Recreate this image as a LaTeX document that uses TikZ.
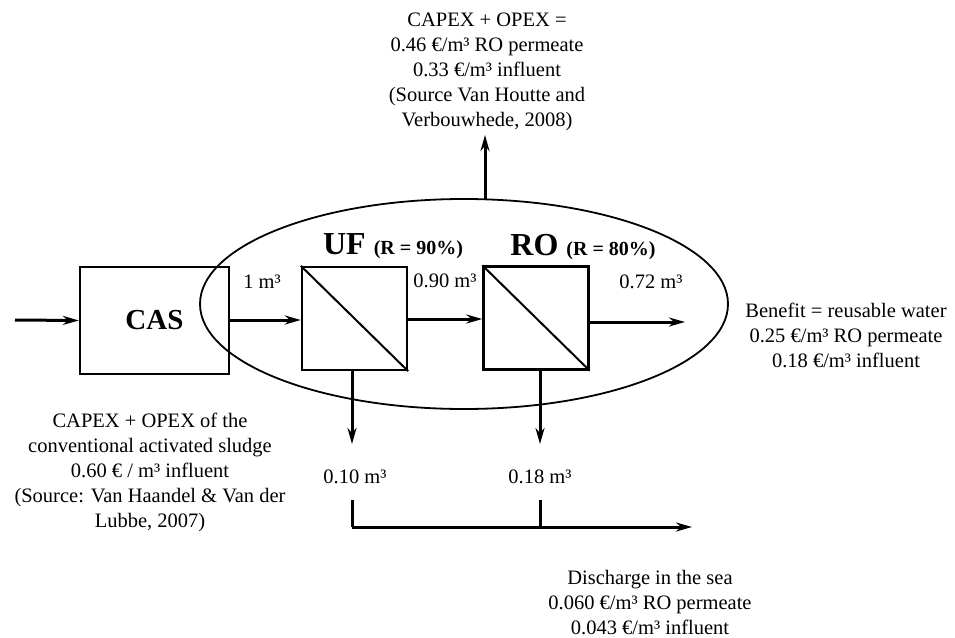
\documentclass[tikz,border=0pt]{standalone}
\usepackage{fontspec}
\setmainfont{Liberation Serif}
\usetikzlibrary{arrows.meta,shapes.geometric}
\begin{document}
\begin{tikzpicture}[x=1pt,y=-1pt,
  flow/.style={line width=3pt,-{Stealth[length=16pt,width=9pt]}},
  plain/.style={line width=3pt},
  unit/.style={draw,line width=2.4pt,minimum width=105pt,minimum height=103pt,inner sep=0pt},
  txt/.style={font=\fontsize{20.5}{25}\selectfont,align=center,inner sep=0pt},
  lbl/.style={font=\fontsize{20.5}{22}\selectfont,inner sep=0pt}]
\useasboundingbox (0,0) rectangle (955,637);
% ellipse
\node[draw,ellipse,line width=1.8pt,minimum width=528pt,minimum height=210pt,inner sep=0pt] (ell) at (464,304) {};
% boxes
\node[draw,line width=2.4pt,minimum width=149pt,minimum height=107pt,inner sep=0pt,font=\fontsize{29}{29}\selectfont\bfseries] (cas) at (154.5,320.5) {CAS};
\node[unit] (uf) at (354.5,318.5) {};
\node[unit] (ro) at (536,318) {};
\draw[line width=2pt] (uf.north west) -- (uf.south east);
\draw[line width=2pt] (ro.north west) -- (ro.south east);
% labels
\node[lbl,anchor=base] (uflab) at (393,254) {\fontsize{32}{32}\selectfont\bfseries UF \fontsize{20}{20}\selectfont(R = 90\%)};
\node[lbl,anchor=base] (rolab) at (583,255) {\fontsize{32}{32}\selectfont\bfseries RO \fontsize{20}{20}\selectfont(R = 80\%)};
\node[lbl] (q1) at (262,282) {1 m³};
\node[lbl] (q2) at (445,281) {0.90 m³};
\node[lbl] (q3) at (651,282) {0.72 m³};
\node[lbl] (q4) at (355,477) {0.10 m³};
\node[lbl] (q5) at (540,477) {0.18 m³};
% input / outputs
\coordinate (in) at (15,320);
\coordinate (out) at (685,322);
\draw[flow] (in) -- (cas.west);
\draw[flow] (cas.east |- 0,320) -- (uf.west |- 0,320);
\draw[flow] (uf.east |- 0,319) -- (ro.west |- 0,319);
\draw[flow] (ro.east |- 0,322) -- (out);
% down arrows
\coordinate (ufd) at (352,444);
\coordinate (rod) at (540,444);
\draw[flow] (uf.south -| ufd) -- (ufd);
\draw[flow] (ro.south -| rod) -- (rod);
% discharge line
\coordinate (a1) at (352,500);
\coordinate (a2) at (352,527);
\coordinate (b1) at (540,500);
\coordinate (b2) at (540,527);
\coordinate (dis) at (692,527);
\draw[plain] (a1) -- (a2);
\draw[plain] (b1) -- (b2);
\draw[flow] (a2) -- (dis);
% up arrow
\coordinate (top) at (485,199);
\coordinate (topend) at (485,135);
\draw[flow] (top) -- (topend);
% texts
\node[txt,anchor=north] (ttop) at (487,13) {CAPEX + OPEX =\\0.46 €/m³ RO permeate\\0.33 €/m³ influent\\(Source Van Houtte and\\Verbouwhede, 2008)};
\node[txt,anchor=north] (tleft) at (150,413) {CAPEX + OPEX of the\\conventional activated sludge\\0.60 € / m³ influent\\(Source: Van Haandel \& Van der\\Lubbe, 2007)};
\node[txt,anchor=north] (tright) at (846,303) {Benefit = reusable water\\0.25 €/m³ RO permeate\\0.18 €/m³ influent};
\node[txt,anchor=north] (tbot) at (650,570) {Discharge in the sea\\0.060 €/m³ RO permeate\\0.043 €/m³ influent};
\end{tikzpicture}
\end{document}
